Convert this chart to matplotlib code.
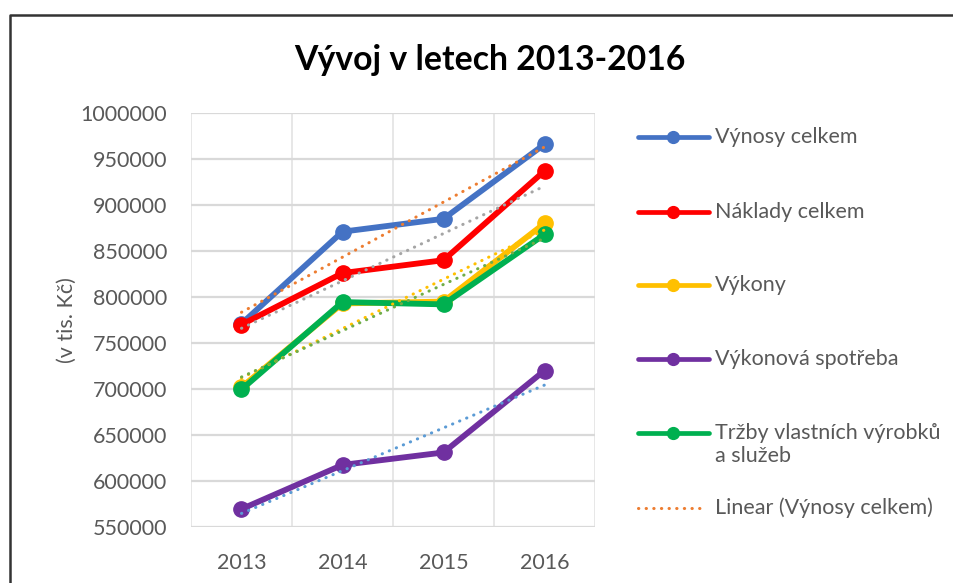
import numpy as np
import matplotlib
matplotlib.use("Agg")
import matplotlib.pyplot as plt
from matplotlib.lines import Line2D
from matplotlib.ticker import FuncFormatter

plt.rcParams['font.family'] = ['Lato', 'DejaVu Sans']

# ---- data (v tis. Kč) ----
years = [2013, 2014, 2015, 2016]
vynosy = [771000, 871000, 885000, 966000]
naklady = [770000, 826000, 840000, 937000]
vykony = [702000, 793000, 795000, 880000]
spotreba = [569500, 617500, 631000, 720000]
trzby = [699500, 794500, 792000, 868000]

names = ["Výnosy celkem", "Náklady celkem", "Výkony", "Výkonová spotřeba",
         "Tržby vlastních výrobků\na služeb"]
series = [vynosy, naklady, vykony, spotreba, trzby]
colors = ["#4472C4", "#FF0000", "#FFC000", "#7030A0", "#00B050"]
trend_colors = ["#ED7D31", "#A5A5A5", "#FFC000", "#5B9BD5", "#70AD47"]

W, H = 954, 583
FS = 15.5
fig = plt.figure(figsize=(W / 100, H / 100), dpi=100)
ax = fig.add_axes([191 / W, 1 - 527 / H, (595 - 191) / W, (527 - 113) / H])

x = np.arange(len(years))
for vals, c in zip(series, colors):
    ax.plot(x, vals, color=c, lw=4.2, marker="o", ms=11, solid_capstyle="round",
            zorder=3)

# linear trendlines (least squares, like Excel)
dot = (0, (0.1, 2.4))
for vals, c in zip(series, trend_colors):
    k, q = np.polyfit(x, vals, 1)
    ax.plot(x, k * x + q, color=c, lw=2.2, linestyle=dot, dash_capstyle="round",
            zorder=4)

ax.set_xlim(-0.5, 3.5)
ax.set_ylim(550000, 1000000)
ax.set_yticks(np.arange(550000, 1000001, 50000))
ax.yaxis.set_major_formatter(FuncFormatter(lambda v, p: f"{v:.0f}"))
ax.set_xticks(x)
ax.set_xticklabels([str(y) for y in years])
ax.set_xticks(np.arange(-0.5, 3.6, 0.5), minor=True)
ax.grid(which="minor", axis="x", color="#E3E3E3", lw=1.2)
ax.grid(which="major", axis="y", color="#D9D9D9", lw=1.6)
ax.set_axisbelow(True)
for s in ax.spines.values():
    s.set_visible(False)
ax.tick_params(which="both", length=0, labelsize=FS, colors="#595959")
ax.tick_params(axis="y", pad=17)
ax.tick_params(axis="x", pad=19)
ax.set_ylabel("(v tis. Kč)", fontsize=FS, color="#595959", labelpad=3)

fig.text(490 / W, 1 - 60 / H, "Vývoj v letech 2013-2016", ha="center", va="center",
         fontsize=24.3, fontweight="bold", color="#000000")

# legend drawn by hand to keep Excel-like placement
leg_y = [137, 212, 285, 359, 433]
for name, c, yy in zip(names, colors, leg_y):
    fy = 1 - yy / H
    fig.add_artist(Line2D([638 / W, 709 / W], [fy, fy], color=c, lw=3.4,
                          solid_capstyle="round", transform=fig.transFigure))
    fig.add_artist(Line2D([673 / W], [fy], color=c, marker="o", ms=8.5,
                          transform=fig.transFigure))
    for i, line in enumerate(name.split("\n")):
        fig.text(715 / W, 1 - (yy + 6 + 23 * i) / H, line, ha="left",
                 va="baseline", fontsize=FS, color="#595959")
fy = 1 - 508 / H
fig.add_artist(Line2D([638 / W, 702 / W], [fy, fy], color=trend_colors[0], lw=2.2,
                      linestyle=(0, (0.1, 2.4)), dash_capstyle="round",
                      transform=fig.transFigure))
fig.text(715 / W, 1 - 514 / H, "Linear (Výnosy celkem)", ha="left", va="baseline",
         fontsize=FS, color="#595959")

# chart border (only top and left visible in the crop)
fig.add_artist(Line2D([10 / W, 10 / W, 1.0], [0.0, 1 - 15 / H, 1 - 15 / H],
                      color="#333333", lw=1.8, transform=fig.transFigure))

fig.savefig("out.png", dpi=100)
